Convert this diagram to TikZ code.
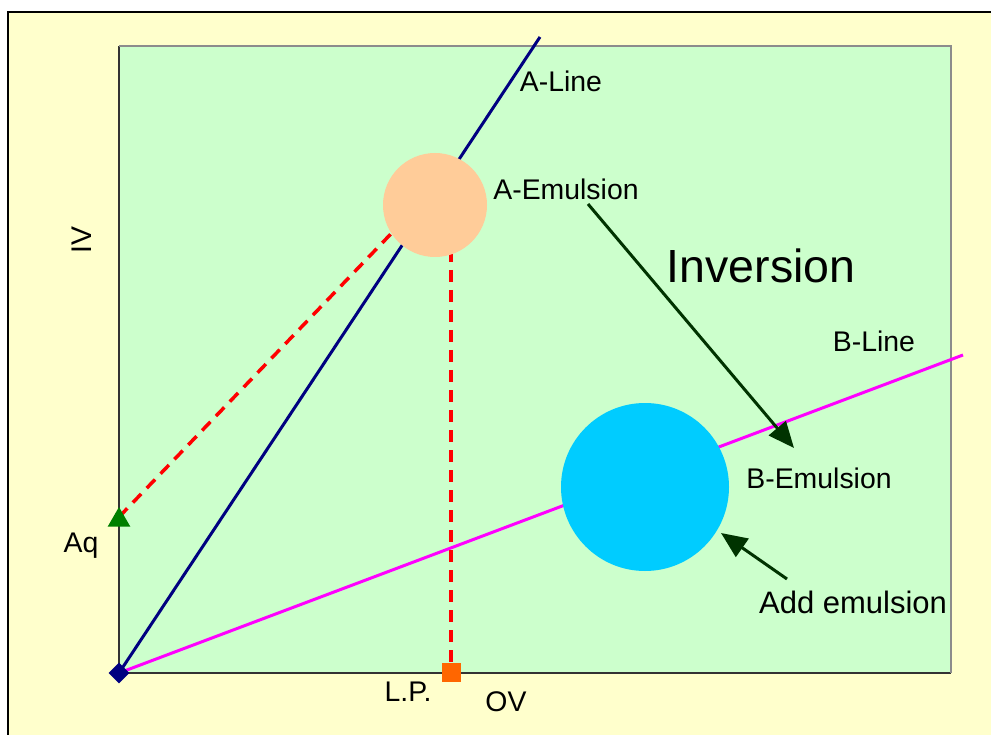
\documentclass[tikz,border=0pt]{standalone}
\usepackage{fontspec}
\setmainfont{Liberation Sans}
\usetikzlibrary{arrows.meta,shapes.geometric}
\definecolor{bgyellow}{HTML}{FFFFCC}
\definecolor{plotgreen}{HTML}{CCFFCC}
\definecolor{aline}{HTML}{000080}
\definecolor{bline}{HTML}{FF00FF}
\definecolor{peach}{HTML}{FFCC99}
\definecolor{skyc}{HTML}{00CCFF}
\definecolor{sqorange}{HTML}{FF6600}
\definecolor{trigreen}{HTML}{008000}
\definecolor{arrgreen}{HTML}{003300}
\begin{document}
\begin{tikzpicture}[x=1pt,y=-1pt,
  lbl/.style={font=\fontsize{28.4}{34}\selectfont, inner sep=0pt, text=black},
  reddash/.style={draw=red, line width=3.5pt, dash pattern=on 12pt off 8pt},
  bigarrow/.style={draw=arrgreen, line width=3pt, -{Triangle[length=26pt,width=22pt]}},
  emul/.style={circle, inner sep=0pt, draw=none}
]
\useasboundingbox (0,0) rectangle (991,735);
\fill[white] (0,0) rectangle (991,735);
\fill[bgyellow] (8,12) rectangle (991,735);
\draw[black, line width=1.5pt] (8,735) -- (8,12) -- (991,12);
% plot area
\fill[plotgreen] (119,46) rectangle (951,673);
\draw[black!80, line width=1.2pt] (119,46) -- (119,673) -- (951,673);
\draw[black!45, line width=1.2pt] (119,46) -- (951,46) -- (951,673);
% coordinates
\coordinate (O) at (119,673);
\coordinate (Aend) at (540,37);
\coordinate (Bend) at (963,355);
\coordinate (Acen) at (435,205);
\coordinate (Bcen) at (645,487);
\coordinate (AqPt) at (119,517);
\coordinate (LPPt) at (451,672);
\coordinate (dashTop) at (451,230);
\coordinate (dashDiag) at (410,214);
% dashed red lines
\draw[reddash] (AqPt) -- (dashDiag);
\draw[reddash] (dashTop) -- (LPPt);
% lines
\draw[aline, line width=3pt] (O) -- (Aend);
\draw[bline, line width=3pt] (O) -- (Bend);
% emulsions
\node[emul, fill=peach, minimum size=104pt] (aemul) at (Acen) {};
\node[emul, fill=skyc, minimum size=168pt] (bemul) at (Bcen) {};
% markers
\node[regular polygon, regular polygon sides=3, fill=trigreen, inner sep=0pt, minimum size=26pt, yshift=-3pt] (aq) at (AqPt) {};
\node[diamond, fill=aline, inner sep=0pt, minimum size=21pt] (orig) at (O) {};
\node[rectangle, fill=sqorange, inner sep=0pt, minimum size=19pt] (lp) at (LPPt) {};
% labels
\node[lbl] (alinelbl) at (561,81) {A-Line};
\node[lbl] (aemullbl) at (566,189) {A-Emulsion};
\node[lbl, font=\fontsize{46.5}{56}\selectfont] (inv) at (761,266) {Inversion};
\node[lbl] (blinelbl) at (874,341) {B-Line};
\node[lbl] (bemullbl) at (819,478) {B-Emulsion};
\node[lbl, font=\fontsize{31}{37}\selectfont] (addlbl) at (853,602) {Add emulsion};
\node[lbl] (aqlbl) at (81,546) {Aq};
\node[lbl] (lplbl) at (408,692) {L.P.};
\node[lbl] (ovlbl) at (506,702) {OV};
\node[lbl, rotate=90] (ivlbl) at (82,240) {IV};
% arrows
\coordinate (arr1s) at (588,204);
\coordinate (arr1e) at (794,448);
\coordinate (arr2s) at (787,579);
\coordinate (arr2e) at (721,533);
\draw[bigarrow] (arr1s) -- (arr1e);
\draw[bigarrow] (arr2s) -- (arr2e);
\end{tikzpicture}
\end{document}
